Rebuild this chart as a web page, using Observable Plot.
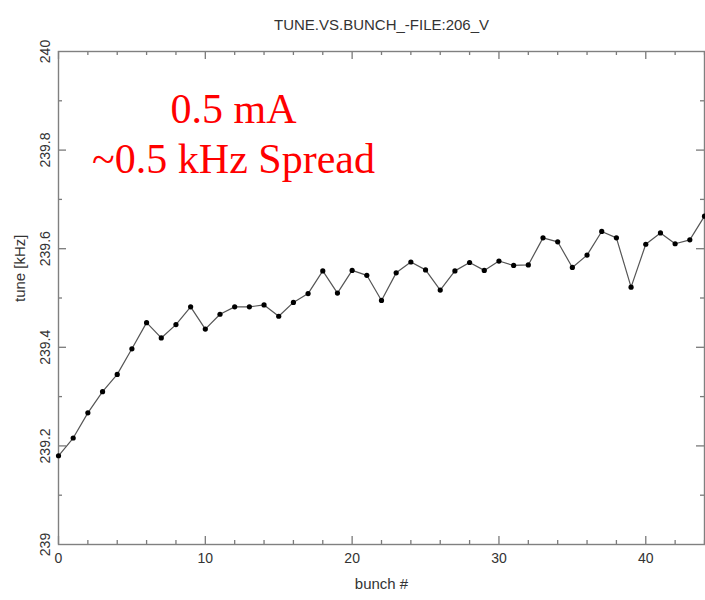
<!DOCTYPE html>
<html>
<head>
<meta charset="utf-8">
<script src="https://cdn.jsdelivr.net/npm/d3@7"></script>
<script src="https://cdn.jsdelivr.net/npm/@observablehq/plot@0.6"></script>
<style>
  html, body { margin: 0; padding: 0; background: #ffffff; }
</style>
</head>
<body>
<div id="chart"></div>
<script>
const titleText = "TUNE.VS.BUNCH_-FILE:206_V";
const xLabelText = "bunch #";
const yLabelText = "tune [kHz]";
const annotationLines = ["0.5 mA", "~0.5 kHz Spread"];

const bunch = [0,1,2,3,4,5,6,7,8,9,10,11,12,13,14,15,16,17,18,19,20,21,22,23,24,25,26,27,28,29,30,31,32,33,34,35,36,37,38,39,40,41,42,43,44];
const tune = [
  239.180, 239.216, 239.267, 239.310, 239.345, 239.397, 239.450, 239.419, 239.446, 239.482,
  239.437, 239.467, 239.482, 239.482, 239.486, 239.463, 239.491, 239.509, 239.555, 239.510,
  239.556, 239.546, 239.495, 239.551, 239.573, 239.557, 239.516, 239.555, 239.572, 239.556,
  239.575, 239.566, 239.567, 239.622, 239.614, 239.562, 239.587, 239.635, 239.622, 239.522,
  239.609, 239.632, 239.610, 239.618, 239.666
];

const xTickValues = [0,2,4,6,8,10,12,14,16,18,20,22,24,26,28,30,32,34,36,38,40,42,44];
const xTickLabels = [0, 10, 20, 30, 40];
const yTickValues = [239.1, 239.2, 239.3, 239.4, 239.5, 239.6, 239.7, 239.8, 239.9];
const yTickLabels = [239, 239.2, 239.4, 239.6, 239.8, 240];
const xDomain = [0, 44];
const yDomain = [239, 240];

const data = bunch.map((b, i) => ({bunch: b, tune: tune[i]}));
const xMajor = xTickValues.filter(v => v % 10 === 0);
const xMinor = xTickValues.filter(v => v % 10 !== 0);
const yMajor = yTickValues.filter((v, i) => i % 2 === 1);
const yMinor = yTickValues.filter((v, i) => i % 2 === 0);

const tickColor = "#7a7a7a";
const textColor = "#333333";

const chart = Plot.plot({
  width: 705,
  height: 600,
  marginLeft: 58,
  marginRight: 1,
  marginTop: 51,
  marginBottom: 56,
  style: {fontFamily: "Liberation Sans, Arial, sans-serif", fontSize: "14px", background: "#ffffff", color: textColor},
  x: {domain: xDomain, axis: null},
  y: {domain: yDomain, axis: null},
  marks: [
    // inward ticks: bottom & top
    Plot.ruleX(xMajor, {x: d => d, y1: yDomain[0], y2: yDomain[0], insetBottom: 8, stroke: tickColor, strokeWidth: 1.3}),
    Plot.ruleX(xMinor, {x: d => d, y1: yDomain[0], y2: yDomain[0], insetBottom: 4, stroke: tickColor, strokeWidth: 1.3}),
    Plot.ruleX(xMajor, {x: d => d, y1: yDomain[1], y2: yDomain[1], insetTop: 8, stroke: tickColor, strokeWidth: 1.3}),
    Plot.ruleX(xMinor, {x: d => d, y1: yDomain[1], y2: yDomain[1], insetTop: 4, stroke: tickColor, strokeWidth: 1.3}),
    // inward ticks: left & right
    Plot.ruleY(yMajor, {y: d => d, x1: xDomain[0], x2: xDomain[0], insetLeft: 8, stroke: tickColor, strokeWidth: 1.3}),
    Plot.ruleY(yMinor, {y: d => d, x1: xDomain[0], x2: xDomain[0], insetLeft: 4, stroke: tickColor, strokeWidth: 1.3}),
    Plot.ruleY(yMajor, {y: d => d, x1: xDomain[1], x2: xDomain[1], insetRight: 8, stroke: tickColor, strokeWidth: 1.3}),
    Plot.ruleY(yMinor, {y: d => d, x1: xDomain[1], x2: xDomain[1], insetRight: 4, stroke: tickColor, strokeWidth: 1.3}),
    Plot.frame({stroke: "#808080", strokeWidth: 1.4}),
    // tick labels
    Plot.text(xTickLabels, {x: d => d, y: yDomain[0], dy: 14, text: d => String(d), fill: textColor, fontSize: 14}),
    Plot.text(yTickLabels, {x: xDomain[0], y: d => d, dx: -13, rotate: -90, text: d => String(d), fill: textColor, fontSize: 14}),
    // axis labels & title
    Plot.text([xLabelText], {frameAnchor: "bottom", dy: 44, text: d => d, fill: textColor, fontSize: 15}),
    Plot.text([yLabelText], {frameAnchor: "left", dx: -38, dy: 4, rotate: -90, text: d => d, fill: textColor, fontSize: 15}),
    Plot.text([titleText], {frameAnchor: "top", dy: -32, text: d => d, fill: textColor, fontSize: 15}),
    // data
    Plot.line(data, {x: "bunch", y: "tune", stroke: "#555555", strokeWidth: 1.2}),
    Plot.dot(data, {x: "bunch", y: "tune", r: 2.6, fill: "#000000", stroke: null}),
    // annotation
    Plot.text([annotationLines.join("\n")], {
      frameAnchor: "top-left", dx: 175, dy: 36, text: d => d, textAnchor: "middle", lineAnchor: "top",
      lineHeight: 1.19, fill: "#ff0000", fontSize: 42, fontFamily: "Liberation Serif, Times New Roman, serif"
    })
  ]
});
document.getElementById("chart").appendChild(chart);
</script>
</body>
</html>
